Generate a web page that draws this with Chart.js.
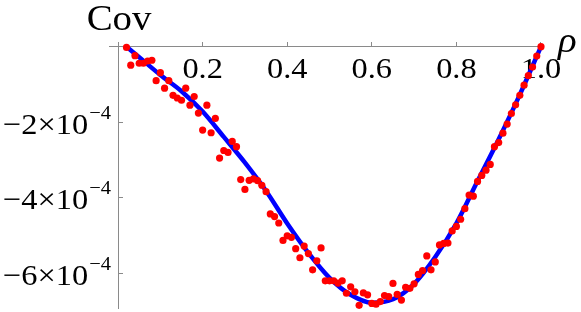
<!DOCTYPE html>
<html>
<head>
<meta charset="utf-8">
<script src="https://cdn.jsdelivr.net/npm/chart.js@4.4.1/dist/chart.umd.min.js"></script>
<style>
  html, body { margin: 0; padding: 0; background: #fff; }
  #wrap { width: 581px; height: 312px; }
</style>
</head>
<body>
<div id="wrap"><canvas id="covChart" width="581" height="312"></canvas></div>
<script>
// simulated points, Cov in units of 1e-4
const dotRho = [
    0.02, 0.03, 0.04, 0.05, 0.06, 0.07, 0.08, 0.09, 0.10,
    0.11, 0.12, 0.13, 0.14, 0.15, 0.16, 0.17, 0.18, 0.19, 0.20,
    0.21, 0.22, 0.23, 0.24, 0.25, 0.26, 0.27, 0.28, 0.29, 0.30,
    0.31, 0.32, 0.33, 0.34, 0.35, 0.36, 0.37, 0.38, 0.39, 0.40,
    0.41, 0.42, 0.43, 0.44, 0.45, 0.46, 0.47, 0.48, 0.49, 0.50,
    0.51, 0.52, 0.53, 0.54, 0.55, 0.56, 0.57, 0.58, 0.59, 0.60,
    0.61, 0.62, 0.63, 0.64, 0.65, 0.66, 0.67, 0.68, 0.69, 0.70,
    0.71, 0.72, 0.73, 0.74, 0.75, 0.76, 0.77, 0.78, 0.79, 0.80,
    0.81, 0.82, 0.83, 0.84, 0.85, 0.86, 0.87, 0.88, 0.89, 0.90,
    0.91, 0.92, 0.93, 0.94, 0.95, 0.96, 0.97, 0.98, 0.99, 1.00
];
const dotCov = [
    -0.02, -0.49, -0.24, -0.44, -0.44, -0.38, -0.36, -0.90, -0.69,
    -1.10, -0.90, -1.29, -1.36, -1.42, -1.10, -1.55, -1.32, -1.76, -2.21,
    -1.55, -2.28, -1.90, -2.95, -2.75, -2.80, -2.51, -2.65, -3.52, -3.78,
    -3.54, -3.50, -3.55, -3.67, -3.84, -4.43, -4.50, -4.67, -5.13, -5.01,
    -5.05, -5.35, -5.59, -5.28, -5.48, -5.91, -5.67, -5.33, -6.20, -6.20,
    -6.20, -6.26, -6.20, -6.53, -6.36, -6.49, -6.85, -6.52, -6.57, -6.80,
    -6.82, -6.75, -6.59, -6.62, -6.27, -6.56, -6.71, -6.37, -6.40, -6.28,
    -6.03, -5.93, -5.54, -5.91, -5.70, -5.25, -5.21, -5.20, -4.88, -4.76,
    -4.57, -4.29, -3.93, -3.96, -3.57, -3.41, -3.27, -3.12, -2.65, -2.54,
    -2.29, -2.05, -1.77, -1.54, -1.29, -1.02, -0.77, -0.54, -0.25, 0.00
];

// theory curve, Cov in units of 1e-4
const curveRho = [0.02, 0.05, 0.10, 0.15, 0.20, 0.25, 0.30, 0.35, 0.40, 0.45, 0.50,
                  0.55, 0.60, 0.65, 0.70, 0.75, 0.80, 0.85, 0.90, 0.95, 1.00];
const curveCov = [0.00, -0.28, -0.75, -1.18, -1.72, -2.39, -3.07, -3.82, -4.68, -5.46, -6.12,
                  -6.57, -6.78, -6.69, -6.28, -5.57, -4.68, -3.56, -2.45, -1.27, 0.00];

const xTicks = [0.2, 0.4, 0.6, 0.8, 1.0];
const xTickLabels = ['0.2', '0.4', '0.6', '0.8', '1.0'];
const yTicks = [-2, -4, -6];
const yTickLabels = ['−2×10', '−4×10', '−6×10'];
const yTickExp = '−4';

const SX = 1.08; // glyphs in the picture are slightly wide
const SERIF = '"Liberation Serif", "Times New Roman", serif';

function wideText(ctx, txt, px, py, align) {
    ctx.save();
    ctx.translate(px, py);
    ctx.scale(SX, 1);
    ctx.textAlign = align;
    ctx.fillText(txt, 0, 0);
    ctx.restore();
}

// labels go under the data, like in the picture (the curve runs over "1.0")
const axisText = {
    id: 'axisText',
    beforeDatasetsDraw(chart) {
        const { ctx, scales: { x, y } } = chart;
        const x0 = x.getPixelForValue(0);
        const y0 = y.getPixelForValue(0);
        ctx.save();
        ctx.fillStyle = '#000';
        ctx.textBaseline = 'alphabetic';

        ctx.font = '30px ' + SERIF;
        xTicks.forEach((v, i) => {
            wideText(ctx, xTickLabels[i], x.getPixelForValue(v), y0 + 31.6, 'center');
        });

        yTicks.forEach((v, i) => {
            const py = y.getPixelForValue(v);
            const right = x0 - 7;
            ctx.font = '19px ' + SERIF;
            const wSup = ctx.measureText(yTickExp).width * SX;
            wideText(ctx, yTickExp, right, py - 3.3, 'right');
            ctx.font = '30px ' + SERIF;
            wideText(ctx, yTickLabels[i], right - wSup - 1, py + 11.7, 'right');
        });

        ctx.font = '36px ' + SERIF;
        wideText(ctx, 'Cov', x0 + 1, 30, 'center');
        ctx.font = 'italic 36px ' + SERIF;
        wideText(ctx, 'ρ', 558, 51.5, 'left');
        ctx.restore();
    }
};

const axisGray = '#8a8a8a';

new Chart(document.getElementById('covChart'), {
    type: 'scatter',
    data: {
        datasets: [
            {
                label: 'simulation',
                data: dotRho.map((r, i) => ({ x: r, y: dotCov[i] })),
                pointRadius: 3.6,
                pointBackgroundColor: '#ff0000',
                pointBorderWidth: 0,
                showLine: false,
                clip: false
            },
            {
                label: 'theory',
                data: curveRho.map((r, i) => ({ x: r, y: curveCov[i] })),
                showLine: true,
                borderColor: '#0000ff',
                borderWidth: 4.5,
                pointRadius: 0,
                cubicInterpolationMode: 'monotone',
                clip: false
            }
        ]
    },
    options: {
        responsive: false,
        animation: false,
        events: [],
        layout: { padding: { left: 109.6, right: 37.9, top: 42.1, bottom: 0 } },
        plugins: { legend: { display: false }, tooltip: { enabled: false } },
        scales: {
            x: {
                type: 'linear',
                min: -0.02,
                max: 1.005,
                position: { y: 0 },
                afterBuildTicks: s => { s.ticks = xTicks.map(v => ({ value: v })); },
                ticks: { display: false },
                grid: { display: true, drawOnChartArea: false, drawTicks: true, tickLength: -5, color: axisGray, lineWidth: 1 },
                border: { display: true, color: axisGray, width: 1 }
            },
            y: {
                type: 'linear',
                min: -6.92,
                max: 0.12,
                position: { x: 0 },
                afterBuildTicks: s => { s.ticks = yTicks.map(v => ({ value: v })); },
                ticks: { display: false },
                grid: { display: true, drawOnChartArea: false, drawTicks: true, tickLength: -5, color: axisGray, lineWidth: 1 },
                border: { display: true, color: axisGray, width: 1 }
            }
        }
    },
    plugins: [axisText]
});
</script>
</body>
</html>
